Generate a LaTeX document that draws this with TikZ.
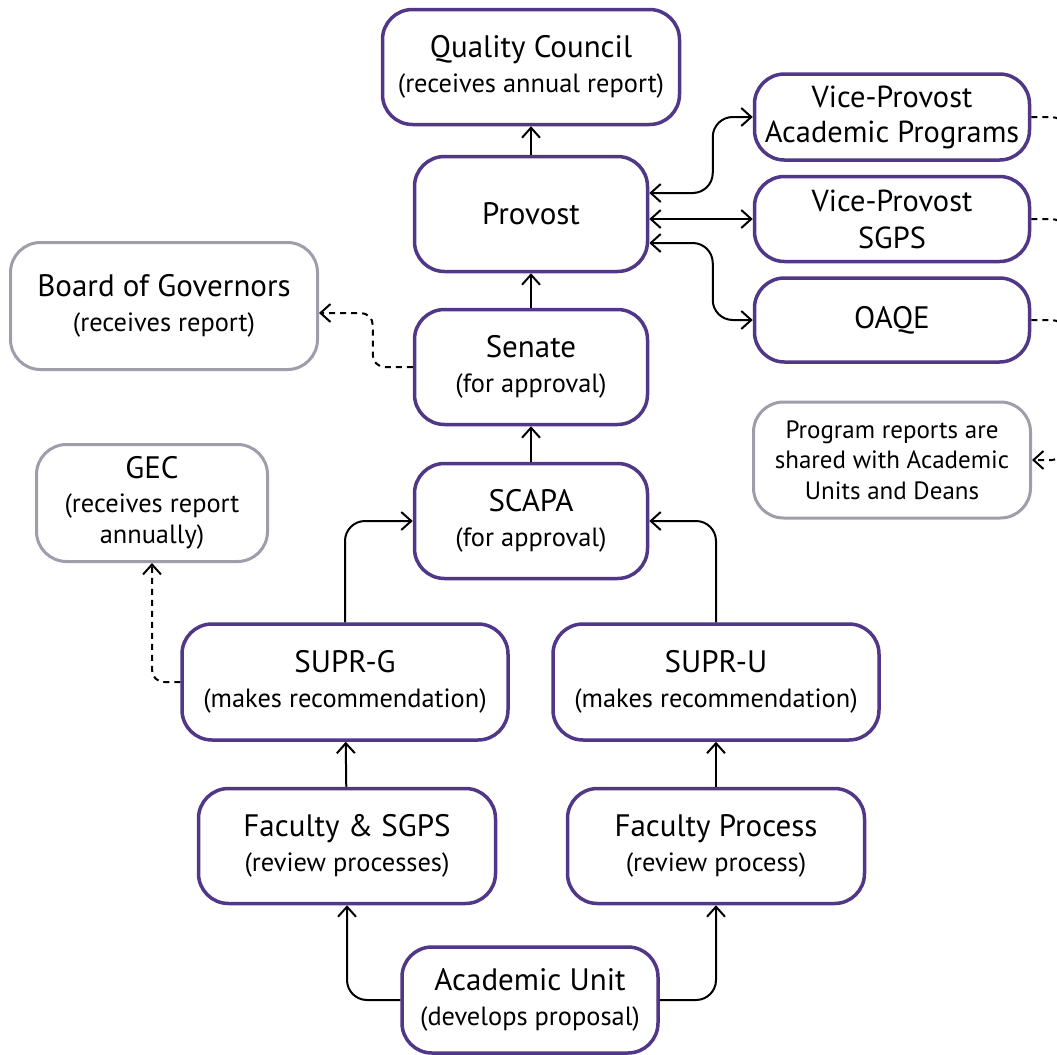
\documentclass[tikz,border=0pt]{standalone}
\usepackage{fontspec}
\setmainfont{PT Sans}
\usepackage{xcolor}
\usetikzlibrary{arrows.meta}
\definecolor{unipurple}{RGB}{80,55,135}
\definecolor{outgray}{RGB}{160,156,170}
\newcommand{\boxhead}[1]{{\fontsize{15.5}{19}\selectfont #1}}

\begin{document}
\begin{tikzpicture}[
    x=0.5pt, y=-0.5pt,
    body/.style={rectangle, draw=unipurple, line width=1.75pt, rounded corners=15pt, fill=white, align=center, inner sep=0pt, font=\fontsize{13.2}{15.5}\selectfont},
    outside/.style={body, draw=outgray, line width=1.5pt},
    arrow/.style={->, >={Straight Barb[length=5pt,width=9pt]}, line width=1pt, rounded corners=10pt},
    report/.style={arrow, dash pattern=on 3pt off 2.5pt, rounded corners=6pt}
]
\useasboundingbox (0,0) rectangle (1057,1055);
\clip (0,0) rectangle (1057,1055);

\node[body, minimum width=148.5pt, minimum height=57.5pt] (qc) at (531,67) {\boxhead{Quality Council}\\[2pt](receives annual report)};
\node[body, minimum width=116.5pt, minimum height=57.5pt] (provost) at (531,214) {\boxhead{Provost}};
\node[body, minimum width=116.5pt, minimum height=57.5pt] (senate) at (531,367) {\boxhead{Senate}\\[2pt](for approval)};
\node[body, minimum width=116.5pt, minimum height=57.5pt] (scapa) at (531,521) {\boxhead{SCAPA}\\[2pt](for approval)};
\node[outside, minimum width=153.5pt, minimum height=63.5pt] (bog) at (164,306) {\boxhead{Board of Governors}\\[2pt](receives report)};
\node[outside, minimum width=115.5pt, minimum height=58.5pt] (gec) at (152,503) {\boxhead{GEC}\\[1.5pt](receives report\\annually)};
\node[body, minimum width=137.5pt, minimum height=43pt, font=\fontsize{15.2}{17.5}\selectfont] (vpap) at (892,117) {Vice-Provost\\Academic Programs};
\node[body, minimum width=137.5pt, minimum height=42.5pt, font=\fontsize{15.2}{18.5}\selectfont] (vpsgps) at (892,219) {Vice-Provost\\SGPS};
\node[body, minimum width=137.5pt, minimum height=42pt] (oaqe) at (892,320) {\boxhead{OAQE}};
\node[outside, minimum width=138.5pt, minimum height=58pt, font=\fontsize{12.5}{15.3}\selectfont] (reports) at (892,460) {Program reports are\\shared with Academic\\Units and Deans};
\node[body, minimum width=163pt, minimum height=58pt] (suprg) at (345,682) {\boxhead{SUPR-G}\\[2pt](makes recommendation)};
\node[body, minimum width=163pt, minimum height=58pt] (supru) at (716,682) {\boxhead{SUPR-U}\\[2pt](makes recommendation)};
\node[body, minimum width=148.5pt, minimum height=57.5pt] (facsgps) at (347,846) {\boxhead{Faculty \& SGPS}\\[2pt](review processes)};
\node[body, minimum width=148.5pt, minimum height=57.5pt] (facproc) at (716,846) {\boxhead{Faculty Process}\\[2pt](review process)};
\node[body, minimum width=128pt, minimum height=53pt] (acad) at (530,1000) {\boxhead{Academic Unit}\\[2pt](develops proposal)};

% approval chain
\draw[arrow] (acad.west) -| (facsgps.south);
\draw[arrow] (acad.east) -| (facproc.south);
\draw[arrow] (facsgps) -- (suprg);
\draw[arrow] (facproc) -- (supru);
\draw[arrow] (suprg.north) |- (scapa.west);
\draw[arrow] (supru.north) |- (scapa.east);
\draw[arrow] (scapa) -- (senate);
\draw[arrow] (senate) -- (provost);
\draw[arrow] (provost) -- (qc);

% provost offices
\draw[arrow, <->] ([yshift=10.5pt]provost.east) -| ([xshift=-20pt]vpap.west) -- (vpap.west);
\draw[arrow, <->] (provost.east |- vpsgps.west) -- (vpsgps.west);
\draw[arrow, <->] ([yshift=-14.5pt]provost.east) -| ([xshift=-20pt]oaqe.west) -- (oaqe.west);

% reporting lines
\draw[report] (senate.west) -- ++(-20pt,0) |- ([yshift=-3.5pt]bog.east);
\draw[report] (suprg.west) -| (gec.south);
\coordinate (bus) at (1064,460);
\draw[report] (vpap.east) -| (bus) -- (reports.east);
\draw[report, -] (vpsgps.east) -| (bus);
\draw[report, -] (oaqe.east) -| (bus);
\end{tikzpicture}
\end{document}
